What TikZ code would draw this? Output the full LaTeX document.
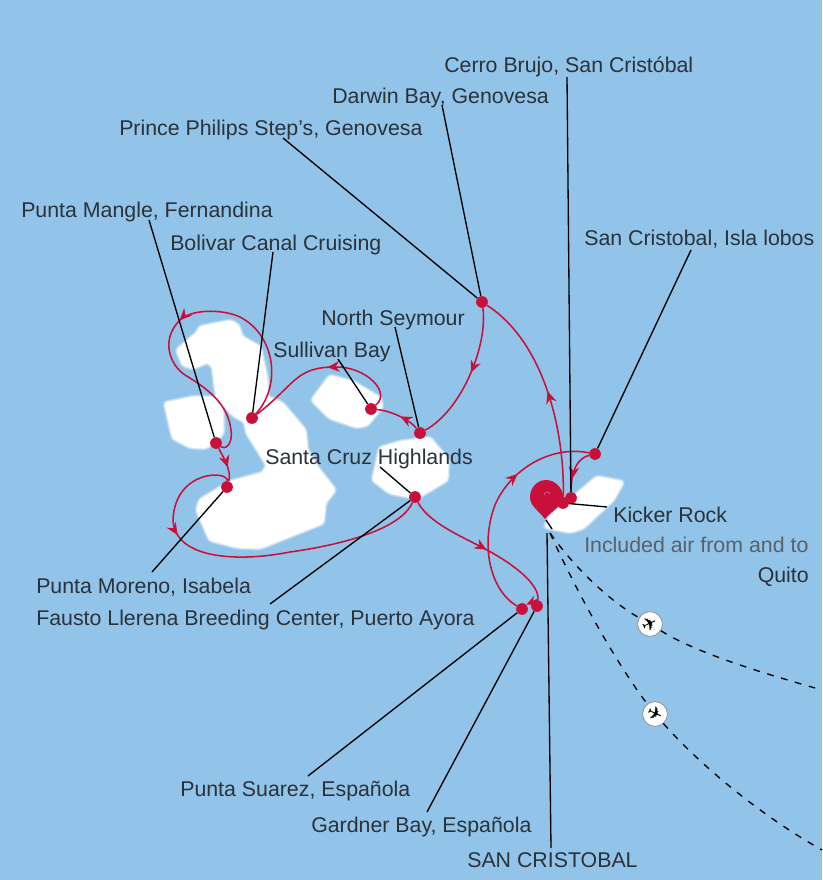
\documentclass[tikz,border=0pt]{standalone}
\usepackage{fontspec}
\setmainfont{Liberation Sans}
\newfontfamily\planefont{DejaVu Sans}
\usetikzlibrary{arrows.meta,decorations.markings}
\newcommand{\pxUnit}{0.75pt}
\newcommand{\labelSize}{\fontsize{16}{19}\selectfont}
\definecolor{seaBlue}{RGB}{146,195,232}
\definecolor{routeRed}{RGB}{200,16,58}
\definecolor{labelInk}{RGB}{42,50,58}
\definecolor{airInk}{RGB}{88,96,104}

\tikzset{
  island/.style={fill=white,draw=white,line width=.8pt,rounded corners=2pt,
    preaction={draw=white,draw opacity=.3,line width=4pt},
    preaction={draw=white,draw opacity=.5,line width=2.4pt}},
  route/.style={routeRed,line width=1.15pt},
  tip/.style={decoration={markings,mark=at position #1 with {\arrow{Stealth[length=9pt,width=8pt]}}},postaction={decorate}},
  stopdot/.style={circle,fill=routeRed,inner sep=0pt,minimum size=8.8pt},
  leader/.style={black,line width=1pt},
  placeName/.style={anchor=base west,inner sep=0pt,font=\labelSize,text=labelInk},
  flight/.style={black,line width=1pt,dash pattern=on 5pt off 5.8pt},
  planeBadge/.style={circle,fill=white,draw=black!45,line width=.5pt,inner sep=0pt,minimum size=18.5pt},
  planeGlyph/.style={inner sep=0pt,font=\planefont\fontsize{14}{14}\selectfont}
}

\begin{document}
\begin{tikzpicture}[x=\pxUnit,y=-\pxUnit]
\fill[seaBlue] (0,0) rectangle (822,880);
\useasboundingbox (0,0) rectangle (822,880);

% islands
\draw[island] (177,350) -- (197,333) -- (200,327) -- (230,321) -- (238,325) -- (242,337) -- (260,347) -- (267,380) -- (267,397) -- (282,403) -- (305,430) -- (307,450) -- (317,467) -- (335,490) -- (325,503) -- (323,523) -- (260,548) -- (237,547) -- (210,540) -- (197,510) -- (200,500) -- (230,482) -- (263,473) -- (267,465) -- (247,433) -- (245,422) -- (233,415) -- (217,397) -- (215,385) -- (213,367) -- (208,362) -- (193,368) -- (183,365) -- cycle;
\draw[island] (165,403) -- (195,397) -- (222,398) -- (223,433) -- (213,443) -- (205,448) -- (190,447) -- (173,438) -- cycle;
\draw[island] (312,400) -- (330,376) -- (353,382) -- (380,398) -- (382,407) -- (367,425) -- (357,427) -- (330,418) -- cycle;
\draw[island] (373,480) -- (380,448) -- (400,442) -- (430,438) -- (448,460) -- (447,480) -- (417,498) -- (390,493) -- cycle;
\draw[island] (597,477) -- (623,482) -- (613,500) -- (583,528) -- (570,532) -- (545,527) -- (550,517) -- (570,500) -- cycle;

% stops
\node[stopdot] (stopMangle) at (216,443) {};
\node[stopdot] (stopMoreno) at (227,487) {};
\node[stopdot] (stopBolivar) at (252,418) {};
\node[stopdot] (stopSullivan) at (371,409) {};
\node[stopdot] (stopSeymour) at (420,433) {};
\node[stopdot] (stopHighlands) at (415,497) {};
\node[stopdot] (stopGenovesa) at (482,302) {};
\node[stopdot] (stopGardner) at (537,606) {};
\node[stopdot] (stopSuarez) at (522,609) {};
\node[stopdot] (stopLobos) at (595,454) {};
\node[stopdot] (stopBrujo) at (571,498) {};
\node[stopdot] (stopKicker) at (563,503) {};

% flights
\node[planeBadge] (planeUpper) at (650,624) {};
\node[planeBadge] (planeLower) at (655,714) {};
\node[planeGlyph,rotate=25] (glyphUpper) at (planeUpper) {✈};
\node[planeGlyph,rotate=-25] (glyphLower) at (planeLower) {✈};
\coordinate (flightStart) at (550,533);
\coordinate (flightUpperEnd) at (822,690);
\coordinate (flightLowerEnd) at (822,850);
\draw[flight] (flightStart) .. controls (580,575) and (615,604) .. (planeUpper);
\draw[flight] (planeUpper) .. controls (700,655) and (770,675) .. (flightUpperEnd);
\draw[flight] (flightStart) .. controls (585,610) and (625,675) .. (planeLower);
\draw[flight] (planeLower) .. controls (700,765) and (760,815) .. (flightLowerEnd);

% routes
\draw[route,tip=.5] (stopKicker) .. controls (565,440) and (548,345) .. (stopGenovesa);
\draw[route,tip=.47] (stopGenovesa) .. controls (488,345) and (462,410) .. (stopSeymour);
\draw[route,tip=.45] (stopSeymour) .. controls (410,420) and (392,411) .. (stopSullivan);
\draw[route,tip=.47] (stopSullivan) .. controls (392,392) and (365,366) .. (335,367) .. controls (295,367) and (295,385) .. (stopBolivar);
\draw[route,tip=.52] (stopBolivar) .. controls (282,385) and (275,335) .. (240,317) .. controls (220,308) and (190,310) .. (180,320) .. controls (160,340) and (170,365) .. (185,375) .. controls (210,390) and (228,405) .. (231,430) .. controls (233,445) and (225,450) .. (stopMangle);
\draw[route,tip=.6] (stopMangle) .. controls (222,455) and (232,470) .. (stopMoreno);
\draw[route,tip=.28] (stopMoreno) .. controls (228,470) and (175,470) .. (173,520) .. controls (175,560) and (240,562) .. (290,552) .. controls (340,545) and (400,530) .. (stopHighlands);
\draw[route,tip=.53] (stopHighlands) .. controls (430,525) and (470,540) .. (487,550) .. controls (515,565) and (540,585) .. (stopGardner);
\draw[route,-{Stealth[length=8pt,width=7pt]}] (stopGardner.north) .. controls (534,601) and (532,602) .. (stopSuarez.north east);
\draw[route,tip=.66] (stopSuarez) .. controls (490,590) and (480,545) .. (495,505) .. controls (510,470) and (550,445) .. (stopLobos);
\draw[route,tip=.7] (stopLobos) .. controls (578,458) and (571,470) .. (stopBrujo);

% pin
\fill[routeRed] (545,519) .. controls (538,510) and (530,506) .. (530,497) .. controls (530,488) and (537,480) .. (546,480) .. controls (555,480) and (563,488) .. (563,497) .. controls (563,506) and (552,510) .. (545,519) -- cycle;
\draw[routeRed!60!white,line width=.5pt] (544,495) .. controls (545,491) and (549,491) .. (550,494);
\draw[routeRed!40!white,line width=.6pt] (565,492) -- (564,497);

% labels
\node[placeName] (lblBrujo) at (444,73) {Cerro Brujo, San Cristóbal};
\node[placeName] (lblDarwin) at (332,104) {Darwin Bay, Genovesa};
\node[placeName] (lblPrince) at (119,136) {Prince Philips Step\symbol{39}s, Genovesa};
\node[placeName] (lblMangle) at (21,218) {Punta Mangle, Fernandina};
\node[placeName] (lblLobos) at (584,246) {San Cristobal, Isla lobos};
\node[placeName] (lblBolivar) at (170,251) {Bolivar Canal Cruising};
\node[placeName] (lblSeymour) at (321,325) {North Seymour};
\node[placeName] (lblSullivan) at (273,357) {Sullivan Bay};
\node[placeName] (lblHighlands) at (265,464) {Santa Cruz Highlands};
\node[placeName] (lblKicker) at (613,522) {Kicker Rock};
\node[placeName,text=airInk] (lblAir) at (584,552) {Included air from and to};
\node[placeName,anchor=base east] (lblQuito) at (809,582) {Quito};
\node[placeName] (lblMoreno) at (36,593) {Punta Moreno, Isabela};
\node[placeName] (lblFausto) at (36,625.5) {Fausto Llerena Breeding Center, Puerto Ayora};
\node[placeName] (lblSuarez) at (180,796) {Punta Suarez, Española};
\node[placeName] (lblGardner) at (311,832) {Gardner Bay, Española};
\node[placeName] (lblTown) at (467,867) {SAN CRISTOBAL};

% leaders
\coordinate (topBrujo) at (567,77);
\coordinate (topDarwin) at (442,105);
\coordinate (topPrince) at (283,138);
\coordinate (topMangle) at (149,220);
\coordinate (topLobos) at (691,250);
\coordinate (topBolivar) at (273,252);
\coordinate (topSeymour) at (395,327);
\coordinate (topSullivan) at (338,359);
\coordinate (topHighlands) at (380,467);
\coordinate (sideKicker) at (607,507);
\coordinate (botMoreno) at (152,572);
\coordinate (topFausto) at (270,604);
\coordinate (botSuarez) at (308,776);
\coordinate (botGardner) at (427,812);
\coordinate (botTown) at (551,848);
\coordinate (topTown) at (547,533);
\coordinate (pinTip) at (546,520);
\coordinate (pinFoot) at (552,529);
\draw[leader] (topBrujo) -- (stopBrujo);
\draw[leader] (topDarwin) -- (stopGenovesa);
\draw[leader] (topPrince) -- (stopGenovesa);
\draw[leader] (topMangle) -- (stopMangle);
\draw[leader] (topLobos) -- (stopLobos);
\draw[leader] (topBolivar) -- (stopBolivar);
\draw[leader] (topSeymour) -- (stopSeymour);
\draw[leader] (topSullivan) -- (stopSullivan);
\draw[leader] (topHighlands) -- (stopHighlands);
\draw[leader] (sideKicker) -- (stopKicker);
\draw[leader] (botMoreno) -- (stopMoreno);
\draw[leader] (topFausto) -- (stopHighlands);
\draw[leader] (botSuarez) -- (stopSuarez);
\draw[leader] (botGardner) -- (stopGardner);
\draw[leader] (botTown) -- (topTown);
\draw[leader] (pinTip) -- (pinFoot);
\end{tikzpicture}
\end{document}
